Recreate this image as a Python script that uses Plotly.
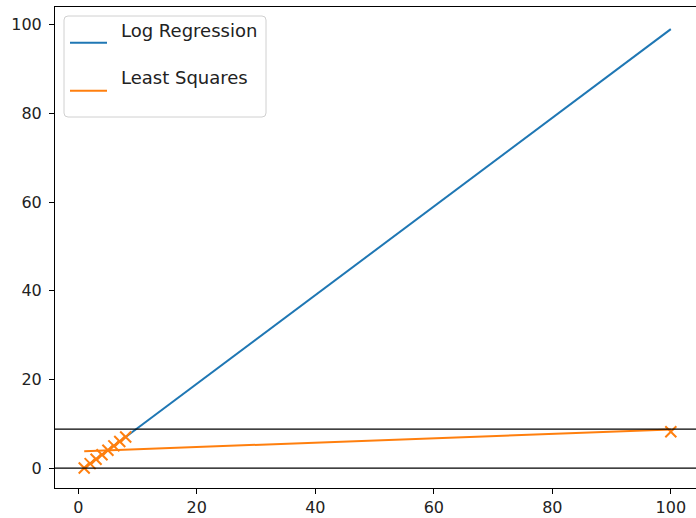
import plotly.graph_objects as go

# Data
pts_x = [1, 2, 3, 4, 5, 6, 7, 8, 100]
pts_y = [0, 1, 2, 3, 4, 5, 6, 7, 8.2]
log_x = [1, 100]
log_y = [0, 99]
ls_x = [1, 100]
ls_y = [3.8, 8.7]
hlines = [0, 8.8]
x_ticks = [0, 20, 40, 60, 80, 100]
y_ticks = [0, 20, 40, 60, 80, 100]
legend_labels = ["Log Regression", "Least Squares"]

BLUE = "#1f77b4"
ORANGE = "#ff7f0e"
FONT = "DejaVu Sans"
FS = 16
LFS = 18

W, H = 696, 518
L, R, T, B = 55, 0, 7, 30
pw, ph = W - L - R, H - T - B


def px(xp):
    return (xp - L) / pw


def py(yp):
    return (H - B - yp) / ph


fig = go.Figure()
fig.add_trace(go.Scatter(x=log_x, y=log_y, mode="lines",
                         line=dict(color=BLUE, width=2), showlegend=False))
fig.add_trace(go.Scatter(x=ls_x, y=ls_y, mode="lines",
                         line=dict(color=ORANGE, width=2), showlegend=False))
fig.add_trace(go.Scatter(x=pts_x, y=pts_y, mode="markers",
                         marker=dict(symbol="x-thin", size=11, color=ORANGE,
                                     line=dict(color=ORANGE, width=2)),
                         showlegend=False))

shapes = []
for h in hlines:
    shapes.append(dict(type="line", xref="paper", yref="y", x0=0, x1=1, y0=h, y1=h,
                       line=dict(color="black", width=1.3), layer="above"))

# legend box (rounded)
x0, x1, y0, y1 = 64, 266, 16, 117
r = 4
path = (f"M {px(x0+r)},{py(y0)} L {px(x1-r)},{py(y0)} Q {px(x1)},{py(y0)} {px(x1)},{py(y0+r)} "
        f"L {px(x1)},{py(y1-r)} Q {px(x1)},{py(y1)} {px(x1-r)},{py(y1)} "
        f"L {px(x0+r)},{py(y1)} Q {px(x0)},{py(y1)} {px(x0)},{py(y1-r)} "
        f"L {px(x0)},{py(y0+r)} Q {px(x0)},{py(y0)} {px(x0+r)},{py(y0)} Z")
shapes.append(dict(type="path", xref="paper", yref="paper", path=path,
                   fillcolor="rgba(255,255,255,0.8)", line=dict(color="#d0d0d0", width=1),
                   layer="above"))
for yy, col in [(42.7, BLUE), (90.7, ORANGE)]:
    shapes.append(dict(type="line", xref="paper", yref="paper", x0=px(70), x1=px(107),
                       y0=py(yy), y1=py(yy), line=dict(color=col, width=2), layer="above"))

annotations = []
for yy, lab in [(30.7, legend_labels[0]), (78, legend_labels[1])]:
    annotations.append(dict(xref="paper", yref="paper", x=px(119), y=py(yy), text=lab,
                            showarrow=False, xanchor="left", yanchor="middle",
                            font=dict(family=FONT, size=LFS, color="#222222")))

fig.update_layout(
    width=W, height=H,
    margin=dict(l=L, r=R, t=T, b=B),
    plot_bgcolor="white", paper_bgcolor="white",
    font=dict(family=FONT, size=FS, color="#222222"),
    shapes=shapes, annotations=annotations,
    showlegend=False,
)
fig.update_xaxes(range=[-3.93, 104.25], tickvals=x_ticks, ticks="outside", ticklen=5,
                 tickcolor="black", showgrid=False, zeroline=False, showline=True,
                 linecolor="black", linewidth=1, mirror=True)
fig.update_yaxes(range=[-4.5, 104.0], tickvals=y_ticks, ticks="outside", ticklen=5,
                 tickcolor="black", showgrid=False, zeroline=False, showline=True,
                 linecolor="black", linewidth=1, ticklabelstandoff=4)

fig.write_html("out.html", config={"displayModeBar": False},
               post_script="document.body.style.margin='0';")
